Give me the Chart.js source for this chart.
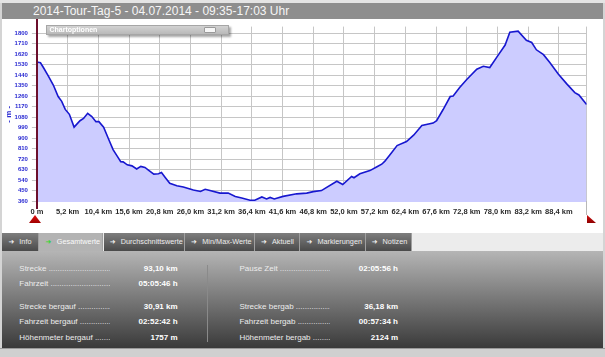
<!DOCTYPE html>
<html><head><meta charset="utf-8">
<script src="https://cdn.jsdelivr.net/npm/chart.js@4.4.1/dist/chart.umd.min.js"></script>
<style>
html,body{margin:0;padding:0;}
body{width:605px;height:357px;background:#d4d4d4;position:relative;overflow:hidden;font-family:"Liberation Sans",Arial,sans-serif;}
.abs{position:absolute;}
#topline{left:0;top:0;width:605px;height:3px;background:#e4e4e4;}
#title{left:2px;top:3px;width:601px;height:16px;background:#8e8e8e;color:#f6f6f6;font-size:12px;line-height:16px;}
#title span{position:absolute;left:31px;top:0;white-space:nowrap;}
#white{left:2px;top:19px;width:601px;height:214px;background:#fff;}
#cv{position:absolute;left:0;top:19px;}
#redline{left:35.5px;top:19px;width:2px;height:190px;background:#6c0f2c;}
#tri1{left:29px;top:215px;width:12px;height:8px;background:linear-gradient(#e01010,#a00000);clip-path:polygon(50% 0,100% 100%,0 100%);}
#tri2{left:587px;top:215px;width:9px;height:8px;background:linear-gradient(#d01010,#900000);clip-path:polygon(0 0,100% 100%,0 100%);}
#gline{left:586px;top:201px;width:1px;height:14px;background:#b8b8b8;}
#opt{left:45.5px;top:24.5px;width:181px;height:8px;background:linear-gradient(#d2d2d2,#b9b9b9);border:1px solid #a6a6a6;box-shadow:2px 2px 2px rgba(0,0,0,0.35);}
#opt span{position:absolute;left:3px;top:0;font-size:7px;line-height:8px;font-weight:bold;color:#fff;}
#optbtn{left:157px;top:1.5px;width:10px;height:4px;background:#f6f6f6;border:1px solid #9a9a9a;border-radius:1px;}
#tabrow{left:2px;top:233px;width:601px;height:18px;background:#ececec;}
.tab{position:absolute;top:233px;height:18px;background:linear-gradient(#7e7e7e,#4a4a4a);border-right:1px solid #a0a0a0;color:#ececec;font-size:7.3px;line-height:18px;white-space:nowrap;}
.tab.act{background:#b3b3b3;color:#fafafa;}
.tab .ar{position:absolute;top:0;font-family:"DejaVu Sans";font-size:7px;color:#f2f2f2;}
.tab.act .ar{color:#2fd82f;}
.tab .tx{position:absolute;top:0;}
#panel{left:2px;top:251px;width:601px;height:97px;background:linear-gradient(#b5b5b5,#3a3a3a);}
#divider{left:207px;top:265px;width:1px;height:77px;background:#8a8a8a;}
.lab{position:absolute;width:91px;overflow:hidden;white-space:nowrap;font-size:8px;line-height:10px;color:#ececec;}
.val{position:absolute;white-space:nowrap;font-size:8px;line-height:10px;font-weight:bold;color:#fff;text-align:right;width:80px;}
#bottom{left:0;top:348px;width:605px;height:9px;background:#d0d0d0;border-top:1px solid #9a9a9a;}
</style></head>
<body>
<div id="topline" class="abs"></div>
<div id="title" class="abs"><span>2014-Tour-Tag-5 - 04.07.2014 - 09:35-17:03 Uhr</span></div>
<div id="white" class="abs"></div>
<canvas id="cv" width="605" height="214"></canvas>
<div id="gline" class="abs"></div>
<div id="redline" class="abs"></div>
<div id="tri1" class="abs"></div>
<div id="tri2" class="abs"></div>
<div id="opt" class="abs"><span>Chartoptionen</span><div id="optbtn" class="abs"></div></div>
<div id="tabrow" class="abs"></div>
<div id="tabs"></div>
<div id="panel" class="abs"></div>
<div id="divider" class="abs"></div>
<div id="stats"></div>
<div id="bottom" class="abs"></div>
<script>
// ---- chart data ----
const distanceKm = [0.0,0.6,1.1,1.9,2.8,3.6,4.2,4.8,5.5,6.3,7.3,7.9,8.6,9.3,10.0,10.5,11.3,12.1,12.9,13.6,14.2,14.6,15.3,16.1,16.9,17.6,18.3,19.0,19.8,20.6,21.1,21.7,22.5,23.7,24.8,26.5,27.7,28.5,29.3,31.0,32.4,33.6,34.7,36.1,36.9,38.1,38.9,39.5,40.2,41.7,44.0,45.7,46.8,48.2,48.8,50.8,51.8,53.3,53.7,54.7,56.4,57.6,58.4,58.9,60.0,61.0,62.6,63.8,65.2,67.1,67.7,68.8,70.0,70.5,71.6,72.8,74.5,75.6,76.7,78.1,79.3,80.1,81.5,82.9,83.8,84.6,85.8,86.9,88.3,89.7,91.1,91.8,93.1];
const elevationM = [1552,1546,1505,1435,1353,1256,1215,1146,1104,994,1049,1068,1112,1085,1041,1041,994,897,801,745,698,696,671,662,635,657,648,621,591,594,605,565,513,491,480,455,442,461,450,428,428,400,386,367,367,395,378,391,378,400,422,428,441,450,469,530,502,571,560,594,621,654,676,700,770,836,870,925,1008,1029,1049,1145,1256,1261,1333,1402,1491,1516,1505,1609,1698,1808,1817,1739,1720,1657,1615,1546,1449,1367,1290,1270,1187];
const xTickValues = [0,5.2,10.4,15.6,20.8,26.0,31.2,36.4,41.6,46.8,52.0,57.2,62.4,67.6,72.8,78.0,83.2,88.4,93.1];
const xTickLabels = ['0 m','5,2 km','10,4 km','15,6 km','20,8 km','26,0 km','31,2 km','36,4 km','41,6 km','46,8 km','52,0 km','57,2 km','62,4 km','67,6 km','72,8 km','78,0 km','83,2 km','88,4 km',''];
const yTickValues = [360,450,540,630,720,810,900,990,1080,1170,1260,1350,1440,1530,1620,1710,1800];
const yTickLabels = ['360','450','540','630','720','810','900','990','1080','1170','1260','1350','1440','1530','1620','1710','1800'];
const yAxisTitle = '- m -';

// ---- page texts ----
const tabNames = ['Info','Gesamtwerte','Durchschnittswerte','Min/Max-Werte','Aktuell','Markierungen','Notizen'];
const leftLabels = ['Strecke','Fahrzeit','Strecke bergauf','Fahrzeit bergauf','Höhenmeter bergauf'];
const leftValues = ['93,10 km','05:05:46 h','30,91 km','02:52:42 h','1757 m'];
const rightLabels = ['Pause Zeit','','Strecke bergab','Fahrzeit bergab','Höhenmeter bergab'];
const rightValues = ['02:05:56 h','','36,18 km','00:57:34 h','2124 m'];

// tabs
const tabGeom = [[2,36.6,6.5,17.3],[38.6,64.9,7,18.2],[103.5,81.1,6.2,17.3],[184.6,70.2,6.4,17.7],[254.8,45.2,6.2,17.2],[300,65.6,6.6,17.4],[365.6,46.8,6.2,17]];
const tabsEl = document.getElementById('tabs');
tabNames.forEach((n,i)=>{
  const g = tabGeom[i];
  const d = document.createElement('div');
  d.className = 'tab' + (i===1?' act':'');
  d.style.left = g[0]+'px'; d.style.width = (g[1]-1)+'px';
  d.innerHTML = '<span class="ar" style="left:'+g[2]+'px">➜</span><span class="tx" style="left:'+g[3]+'px">'+n+'</span>';
  tabsEl.appendChild(d);
});

// stats
const rowY = [269,284,307,322,338];
const dots = ' ' + '.'.repeat(60);
const st = document.getElementById('stats');
function addRow(lab,val,y,lx,vr){
  if(!lab) return;
  const a = document.createElement('div'); a.className='lab';
  a.style.left = lx+'px'; a.style.top=(y-5)+'px'; a.textContent = lab + dots; st.appendChild(a);
  const b = document.createElement('div'); b.className='val';
  b.style.left = (vr-80)+'px'; b.style.top=(y-5)+'px'; b.textContent = val; st.appendChild(b);
}
rowY.forEach((y,i)=>{ addRow(leftLabels[i],leftValues[i],y,19.3,177.6); addRow(rightLabels[i],rightValues[i],y,239.4,398); });

// chart
Chart.defaults.font.family = "'Liberation Sans', Arial, sans-serif";
new Chart(document.getElementById('cv'), {
  type:'line',
  data:{datasets:[{
    data: distanceKm.map((x,i)=>({x:x, y:elevationM[i]})),
    borderColor:'#1717cf', borderWidth:1.6, backgroundColor:'#ccccff',
    fill:'start', pointRadius:0, tension:0
  }]},
  options:{
    responsive:false, animation:false, devicePixelRatio:1,
    layout:{padding:{left:0,right:18.4,top:1.5,bottom:0}},
    plugins:{legend:{display:false}, tooltip:{enabled:false}},
    scales:{
      x:{type:'linear', min:0, max:93.1,
        afterBuildTicks:s=>{ s.ticks = xTickValues.map(v=>({value:v})); },
        afterFit:s=>{ s.height = 31; },
        ticks:{autoSkip:false, maxRotation:0, minRotation:0, padding:5, color:'#2a2a2a',
          font:{size:7.5, weight:'bold'}, callback:(v,i)=>xTickLabels[i]},
        grid:{color:'#c6c6c6', drawTicks:false, lineWidth:1},
        border:{display:false}},
      y:{type:'linear', min:352, max:1856,
        afterBuildTicks:s=>{ s.ticks = yTickValues.map(v=>({value:v})); },
        afterFit:s=>{ s.width = 36.9; },
        ticks:{padding:4, color:'#2a2ad2', font:{size:6, weight:'bold'}, callback:(v,i)=>yTickLabels[i]},
        grid:{color:'#c6c6c6', tickLength:5, lineWidth:1},
        border:{display:false},
        title:{display:true, text:yAxisTitle, color:'#2a2ad2', font:{size:8, weight:'bold'}, padding:{top:4,bottom:0}}}
    }
  }
});
</script>
</body></html>
